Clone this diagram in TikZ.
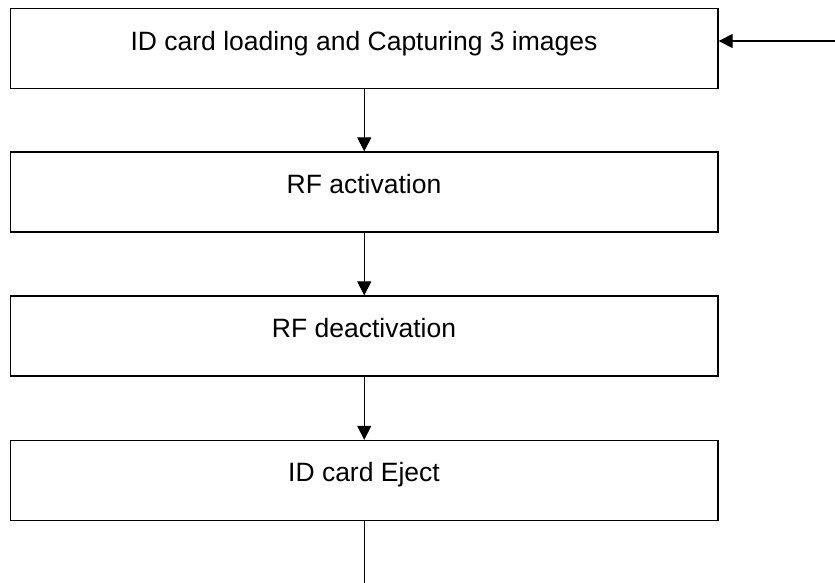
\documentclass[tikz,border=0pt]{standalone}
\usepackage{fontspec}
\setmainfont{Liberation Sans}
\usetikzlibrary{arrows.meta}
\begin{document}
\begin{tikzpicture}[x=1pt,y=-1pt,
  box/.style={draw=black,line width=1.3pt,minimum width=707.5pt,minimum height=80pt,inner sep=0pt,fill=white},
  lbl/.style={anchor=base,inner sep=0pt,font=\fontsize{26.5}{30}\selectfont},
  conn/.style={line width=1.2pt,-{Triangle[length=14pt,width=14pt]}},
  plain/.style={line width=1.2pt}]
\useasboundingbox (0,0) rectangle (835,583);
\node[box] (b1) at (364.25,48.5) {};
\node[box] (b2) at (364.25,192) {};
\node[box] (b3) at (364.25,336) {};
\node[box] (b4) at (364.25,480.5) {};
\node[lbl] (t1) at (364,50.7) {ID card loading and Capturing 3 images};
\node[lbl] (t2) at (364,193.5) {RF activation};
\node[lbl] (t3) at (364,337.5) {RF deactivation};
\node[lbl] (t4) at (364,481.7) {ID card Eject};
\coordinate (in) at (835,41);
\coordinate (out) at (364.25,583);
\draw[conn] (in) -- (in -| b1.east);
\draw[conn] (b1.south) -- (b2.north);
\draw[conn] (b2.south) -- (b3.north);
\draw[conn] (b3.south) -- (b4.north);
\draw[plain] (b4.south) -- (out);
\end{tikzpicture}
\end{document}
